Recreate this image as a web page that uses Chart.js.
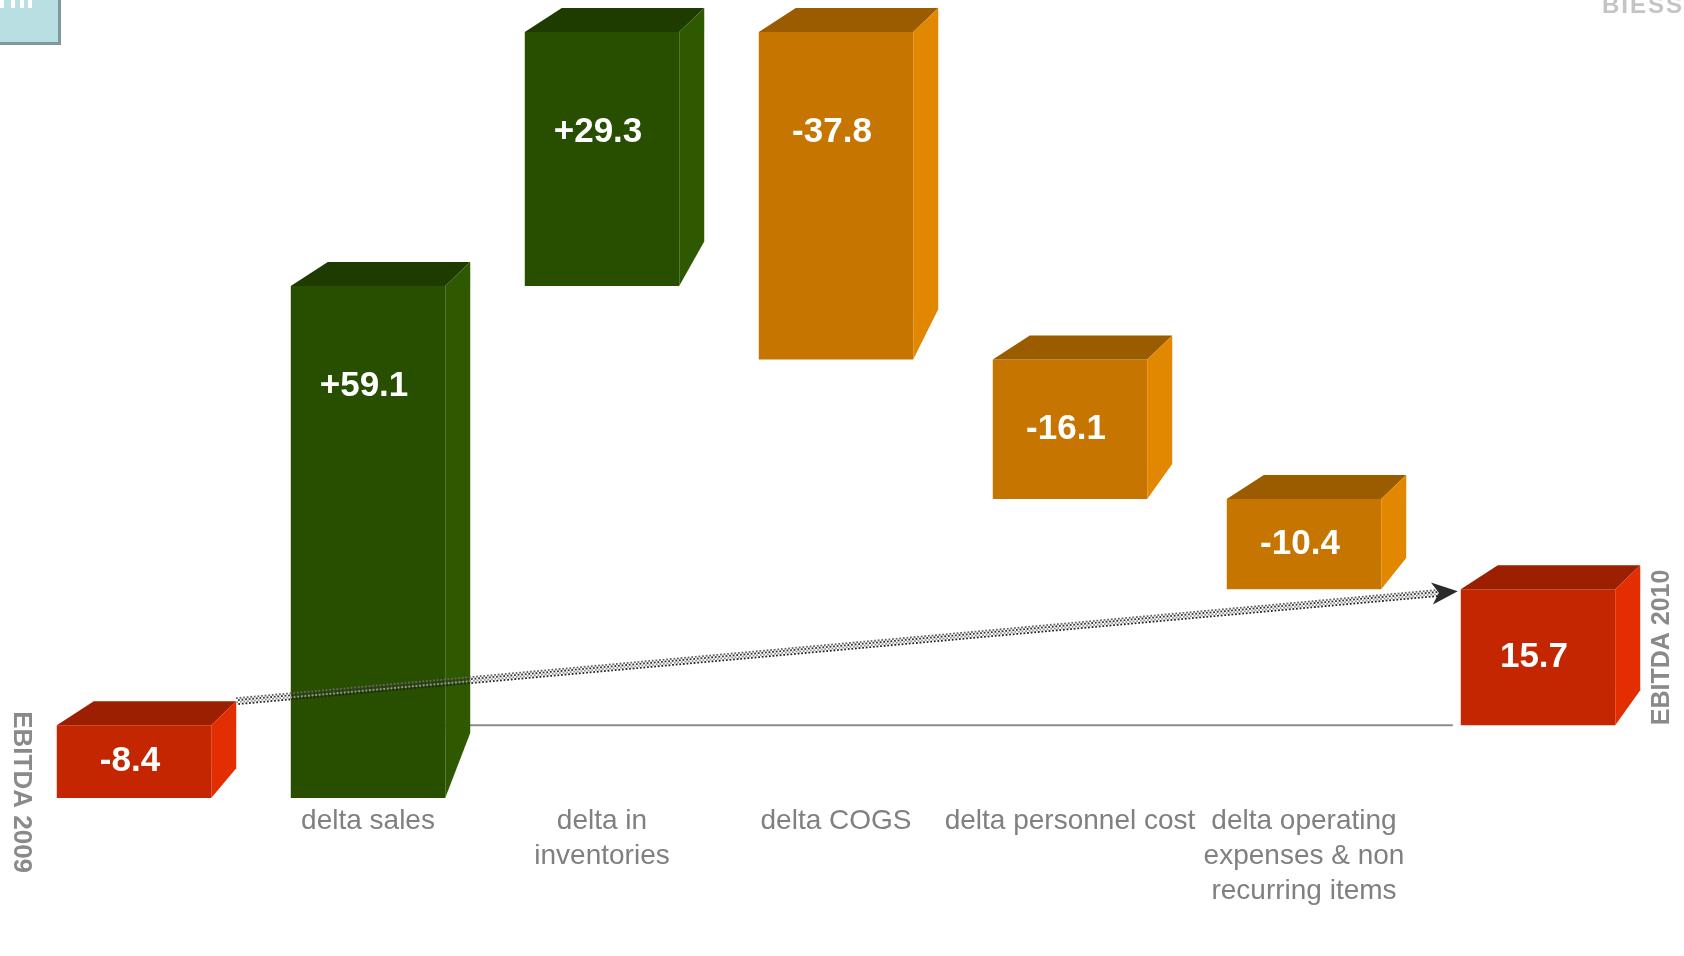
<!DOCTYPE html>
<html>
<head>
<meta charset="utf-8">
<title>EBITDA 2009 - 2010</title>
<script src="https://cdn.jsdelivr.net/npm/chart.js@4.4.1/dist/chart.umd.min.js"></script>
<style>
  html, body { margin: 0; padding: 0; background: #fff; }
  #wrap { position: relative; width: 1684px; height: 956px; overflow: hidden; }
  #badge {
    position: absolute; left: 0; top: 0; width: 58px; height: 42px;
    background: #b9dfe3; border-right: 3px solid #7c9a9e; border-bottom: 3px solid #7c9a9e;
  }
  #badge i { position: absolute; top: 0; width: 4px; height: 8px; background: #fff; }
  #logo {
    position: absolute; left: 1602px; top: -9px; line-height: 1;
    font: bold 24px "Liberation Sans", Arial, sans-serif; letter-spacing: 2px;
    color: #c4c4c4; white-space: nowrap; filter: blur(0.6px);
  }
</style>
</head>
<body>
<div id="wrap">
  <canvas id="chart"></canvas>
  <div id="badge"><i style="left:0"></i><i style="left:11px"></i><i style="left:20px"></i><i style="left:28px"></i></div>
  <div id="logo">BIESSE</div>
</div>
<script>
const categories = ["EBITDA 2009", "delta sales", "delta in inventories", "delta COGS",
  "delta personnel cost", "delta operating expenses & non recurring items", "EBITDA 2010"];
const tickLabels = ["", "delta sales", ["delta in", "inventories"], "delta COGS",
  "delta personnel cost", ["delta operating", "expenses & non", "recurring items"], ""];
const startValue = -8.4;
const deltaValues = [59.1, 29.3, -37.8, -16.1, -10.4];
const endValue = 15.7;

const FONT = '"Liberation Sans", Arial, sans-serif';

const palette = {
  total: { front: '#c32600', top: '#9b1f00', side: '#e22e00' },
  up:    { front: '#284e00', top: '#1e3c00', side: '#2e5900' },
  down:  { front: '#c67500', top: '#9b5c00', side: '#e28800' }
};

// waterfall: each delta floats from the running total to the next one
const bars = [[0, startValue]];
const kinds = ['total'];
let running = startValue;
deltaValues.forEach(d => {
  const next = Math.round((running + d) * 10) / 10;
  bars.push([running, next]);
  kinds.push(d >= 0 ? 'up' : 'down');
  running = next;
});
bars.push([0, endValue]);
kinds.push('total');

const valueTexts = [startValue.toFixed(1)]
  .concat(deltaValues.map(d => (d > 0 ? '+' : '') + d.toFixed(1)))
  .concat([endValue.toFixed(1)]);

function dottedArrow(ctx, x1, y1, x2, y2) {
  const ang = Math.atan2(y2 - y1, x2 - x1);
  const len = Math.hypot(x2 - x1, y2 - y1);
  const head = 26;
  ctx.save();
  ctx.translate(x1, y1);
  ctx.rotate(ang);
  ctx.lineWidth = 1.8;
  ctx.setLineDash([1.8, 1.8]);
  [[-3, '#666'], [-1, '#333'], [1, '#999'], [3, '#222']].forEach(([off, col], k) => {
    ctx.strokeStyle = col;
    ctx.lineDashOffset = k % 2 ? 1.8 : 0;
    ctx.beginPath();
    ctx.moveTo(0, off);
    ctx.lineTo(len - head + 6, off);
    ctx.stroke();
  });
  ctx.setLineDash([]);
  ctx.fillStyle = '#2b2b2b';
  ctx.beginPath();
  ctx.moveTo(len, 0);
  ctx.lineTo(len - head, -11);
  ctx.lineTo(len - head + 7, 0);
  ctx.lineTo(len - head, 11);
  ctx.closePath();
  ctx.fill();
  ctx.restore();
}

const boxFaces = {
  id: 'boxFaces',
  beforeDatasetsDraw(chart) {
    const ctx = chart.ctx;
    const els = chart.getDatasetMeta(0).data;
    const y0 = chart.scales.y.getPixelForValue(0);
    const last = els[els.length - 1];
    ctx.save();
    ctx.strokeStyle = '#8c8c8c';
    ctx.lineWidth = 2;
    ctx.beginPath();
    ctx.moveTo(els[1].x, y0);
    ctx.lineTo(last.x - last.width / 2 - 8, y0);
    ctx.stroke();
    ctx.restore();
  },
  afterDatasetsDraw(chart) {
    const ctx = chart.ctx;
    const els = chart.getDatasetMeta(0).data;
    const y0 = chart.scales.y.getPixelForValue(0);
    const boxes = els.map(el => {
      const { x, y, base, width } = el.getProps(['x', 'y', 'base', 'width'], true);
      return { l: x - width / 2, r: x + width / 2, t: Math.min(y, base), b: Math.max(y, base), cx: x };
    });

    // top and side faces of each box
    boxes.forEach((bx, i) => {
      const c = palette[kinds[i]];
      const h = bx.b - bx.t;
      ctx.fillStyle = c.top;
      ctx.beginPath();
      ctx.moveTo(bx.l, bx.t);
      ctx.lineTo(bx.l + 37, bx.t - 24);
      ctx.lineTo(bx.r + 25, bx.t - 24);
      ctx.lineTo(bx.r, bx.t);
      ctx.closePath();
      ctx.fill();
      ctx.fillStyle = c.side;
      ctx.beginPath();
      ctx.moveTo(bx.r, bx.t);
      ctx.lineTo(bx.r + 25, bx.t - 24);
      ctx.lineTo(bx.r + 25, bx.b - 24 - 0.08 * h);
      ctx.lineTo(bx.r, bx.b);
      ctx.closePath();
      ctx.fill();
    });

    // arrow from EBITDA 2009 to EBITDA 2010
    const first = boxes[0], end = boxes[boxes.length - 1];
    dottedArrow(ctx, first.r + 25, first.t - 24, end.l - 3, end.t + 2);

    // values inside the boxes
    ctx.save();
    ctx.fillStyle = '#ffffff';
    ctx.font = 'bold 35px ' + FONT;
    ctx.textAlign = 'center';
    ctx.textBaseline = 'middle';
    boxes.forEach((bx, i) => {
      const h = bx.b - bx.t;
      ctx.fillText(valueTexts[i], bx.cx - 4, bx.t + Math.min(h / 2, 100));
    });
    ctx.restore();

    // vertical names of the two EBITDA boxes
    ctx.save();
    ctx.fillStyle = '#8a8a8a';
    ctx.textBaseline = 'middle';
    ctx.textAlign = 'left';
    ctx.font = 'bold 26px ' + FONT;
    ctx.translate(first.l - 36, first.t - 14);
    ctx.rotate(Math.PI / 2);
    ctx.fillText(categories[0], 0, 0);
    ctx.restore();

    ctx.save();
    ctx.fillStyle = '#8a8a8a';
    ctx.textBaseline = 'middle';
    ctx.textAlign = 'left';
    ctx.font = 'bold 25px ' + FONT;
    ctx.translate(end.r + 47, y0);
    ctx.rotate(-Math.PI / 2);
    ctx.fillText(categories[categories.length - 1], 0, 0);
    ctx.restore();
  }
};

new Chart(document.getElementById('chart'), {
  type: 'bar',
  data: {
    labels: categories,
    datasets: [{
      data: bars,
      backgroundColor: kinds.map(k => palette[k].front),
      borderWidth: 0,
      barPercentage: 0.66,
      categoryPercentage: 1
    }]
  },
  options: {
    responsive: true,
    maintainAspectRatio: false,
    animation: false,
    layout: { padding: { top: 32, left: 17, right: 29, bottom: 41 } },
    plugins: {
      legend: { display: false },
      tooltip: { enabled: false }
    },
    scales: {
      x: {
        grid: { display: false, drawTicks: false },
        border: { display: false },
        ticks: {
          autoSkip: false,
          maxRotation: 0,
          minRotation: 0,
          padding: 6,
          color: '#808080',
          font: { family: FONT, size: 28, lineHeight: 1.25 },
          callback: (value, index) => tickLabels[index]
        }
      },
      y: { display: false, min: -8.4, max: 80 }
    }
  },
  plugins: [boxFaces]
});
</script>
</body>
</html>
